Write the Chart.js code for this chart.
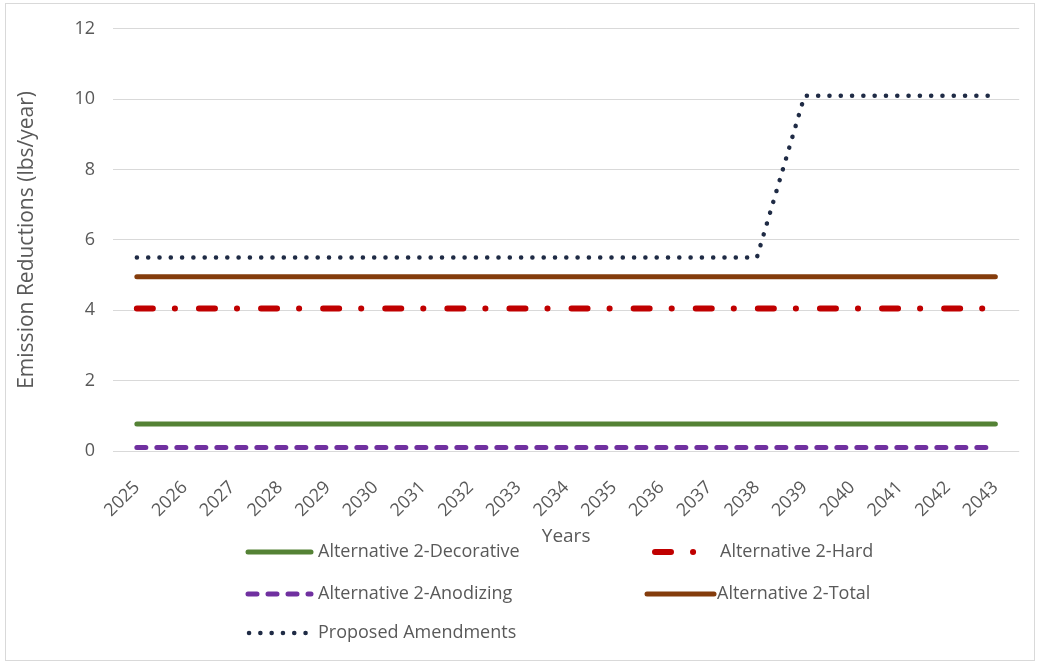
<!DOCTYPE html>
<html>
<head>
<meta charset="utf-8">
<script src="https://cdn.jsdelivr.net/npm/chart.js@4"></script>
<style>
html,body{margin:0;padding:0;background:#fff;}
#wrap{position:relative;width:1037px;height:666px;}
#frame{position:absolute;left:5px;top:3px;width:1030px;height:658px;border:1px solid #d9d9d9;box-sizing:border-box;pointer-events:none;}
canvas{display:block;}
</style>
</head>
<body>
<div id="wrap">
<canvas id="c" width="1037" height="666"></canvas>
<div id="frame"></div>
</div>
<script>
const years = ['2025','2026','2027','2028','2029','2030','2031','2032','2033','2034','2035','2036','2037','2038','2039','2040','2041','2042','2043'];
const decorative = [0.77,0.77,0.77,0.77,0.77,0.77,0.77,0.77,0.77,0.77,0.77,0.77,0.77,0.77,0.77,0.77,0.77,0.77,0.77];
const hard = [4.05,4.05,4.05,4.05,4.05,4.05,4.05,4.05,4.05,4.05,4.05,4.05,4.05,4.05,4.05,4.05,4.05,4.05,4.05];
const anodizing = [0.1,0.1,0.1,0.1,0.1,0.1,0.1,0.1,0.1,0.1,0.1,0.1,0.1,0.1,0.1,0.1,0.1,0.1,0.1];
const total = [4.95,4.95,4.95,4.95,4.95,4.95,4.95,4.95,4.95,4.95,4.95,4.95,4.95,4.95,4.95,4.95,4.95,4.95,4.95];
const proposed = [5.5,5.5,5.5,5.5,5.5,5.5,5.5,5.5,5.5,5.5,5.5,5.5,5.5,5.5,10.1,10.1,10.1,10.1,10.1];
const yTicks = [0,2,4,6,8,10,12];

const FONT = 'Open Sans';
const TXT = '#595959';

const styles = {
  decorative:{label:'Alternative 2-Decorative', color:'#548235', width:5, dash:[], cap:'round'},
  hard:{label:'Alternative 2-Hard', color:'#c00000', width:6, dash:[16,22,0.1,24], cap:'round'},
  anodizing:{label:'Alternative 2-Anodizing', color:'#7030a0', width:5, dash:[9,11], cap:'round'},
  total:{label:'Alternative 2-Total', color:'#843c0c', width:5, dash:[], cap:'round'},
  proposed:{label:'Proposed Amendments', color:'#1f2b45', width:4.5, dash:[0.1,11.2], cap:'round'}
};
function ds(key, data){
  const s = styles[key];
  return {label:s.label, data:data, borderColor:s.color, backgroundColor:s.color, borderWidth:s.width,
    borderDash:s.dash, borderCapStyle:s.cap, pointRadius:0, tension:0, fill:false};
}

const legendPlugin = {
  id:'customLegend',
  afterDraw(chart){
    const ctx = chart.ctx;
    const items = [
      {k:'decorative', x1:248, x2:311, tx:318, y:552},
      {k:'hard', x1:655, x2:700, tx:720, y:552},
      {k:'anodizing', x1:248, x2:311, tx:318, y:594},
      {k:'total', x1:647, x2:714, tx:717, y:594},
      {k:'proposed', x1:249, x2:311, tx:318, y:633}
    ];
    ctx.save();
    items.forEach(it=>{
      const s = styles[it.k];
      ctx.beginPath();
      ctx.strokeStyle = s.color;
      ctx.lineWidth = s.width;
      ctx.lineCap = s.cap;
      ctx.setLineDash(s.dash);
      ctx.moveTo(it.x1, it.y);
      ctx.lineTo(it.x2, it.y);
      ctx.stroke();
      ctx.setLineDash([]);
      ctx.fillStyle = TXT;
      ctx.font = '18px "' + FONT + '"';
      ctx.textBaseline = 'middle';
      ctx.textAlign = 'left';
      ctx.fillText(s.label, it.tx, it.y);
    });
    ctx.restore();
  }
};

new Chart(document.getElementById('c'), {
  type:'line',
  data:{
    labels: years,
    datasets:[
      ds('decorative', decorative),
      ds('hard', hard),
      ds('anodizing', anodizing),
      ds('total', total),
      ds('proposed', proposed)
    ]
  },
  options:{
    responsive:false,
    animation:false,
    layout:{padding:{left:14, right:14, top:28, bottom:118}},
    plugins:{legend:{display:false}, tooltip:{enabled:false}},
    scales:{
      x:{
        offset:true,
        grid:{display:false, drawTicks:false},
        border:{display:false},
        ticks:{color:TXT, font:{family:FONT, size:18}, minRotation:45, maxRotation:45, padding:26, autoSkip:false},
        title:{display:true, text:'Years', color:TXT, font:{family:FONT, size:19}, padding:0},
        afterFit(scale){ scale.height = 97; }
      },
      y:{
        min:0, max:12,
        afterBuildTicks(scale){ scale.ticks = yTicks.map(v=>({value:v})); },
        grid:{color:'#d9d9d9', lineWidth:1, drawTicks:false},
        border:{display:false},
        ticks:{color:TXT, font:{family:FONT, size:18}, padding:18},
        title:{display:true, text:'Emission Reductions (lbs/year)', color:TXT, font:{family:FONT, size:21}, padding:0},
        afterFit(scale){ scale.width = 99; }
      }
    }
  },
  plugins:[legendPlugin]
});
</script>
</body>
</html>
